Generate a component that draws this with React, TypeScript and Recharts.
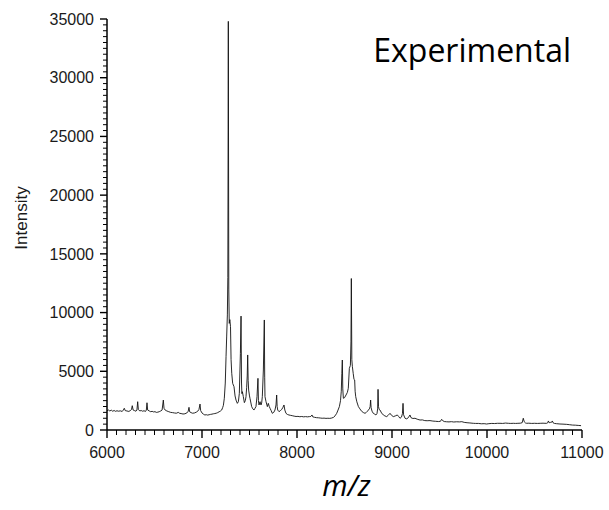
import React from "react";
import { LineChart, Line, XAxis, YAxis, Label, Customized } from "recharts";

const mzValues: number[] = [
  6000, 6015, 6030, 6045, 6060, 6075, 6090, 6105, 6120, 6140, 6160, 6172, 6182, 6192, 6210, 6230, 6250, 6258, 6266, 6275,
  6290, 6305, 6315, 6323, 6330, 6345, 6360, 6375, 6390, 6405, 6414, 6421, 6428, 6445, 6460, 6475, 6490, 6505, 6520, 6535,
  6550, 6565, 6580, 6593, 6600, 6612, 6630, 6650, 6670, 6690, 6710, 6730, 6750, 6765, 6780, 6800, 6820, 6840, 6855, 6863,
  6870, 6885, 6900, 6920, 6940, 6955, 6968, 6979, 6986, 7000, 7015, 7030, 7045, 7060, 7075, 7090, 7105, 7120, 7135, 7150,
  7165, 7180, 7195, 7207, 7217, 7225, 7235, 7245, 7253, 7260, 7267, 7272, 7277, 7282, 7287, 7293, 7300, 7306, 7313, 7323,
  7337, 7348, 7358, 7372, 7383, 7393, 7404, 7411, 7416, 7420, 7425, 7435, 7446, 7456, 7463, 7470, 7476, 7481, 7486, 7491,
  7500, 7505, 7515, 7523, 7535, 7547, 7558, 7568, 7579, 7589, 7594, 7600, 7611, 7621, 7628, 7635, 7646, 7656, 7660, 7663,
  7674, 7688, 7698, 7708, 7716, 7728, 7740, 7755, 7768, 7779, 7786, 7791, 7797, 7811, 7825, 7839, 7850, 7863, 7872, 7884,
  7900, 7915, 7930, 7950, 7970, 7990, 8010, 8030, 8050, 8070, 8090, 8110, 8130, 8145, 8158, 8166, 8185, 8205, 8225, 8245,
  8265, 8285, 8305, 8325, 8345, 8365, 8385, 8400, 8418, 8432, 8446, 8458, 8466, 8472, 8477, 8482, 8488, 8500, 8516, 8530,
  8540, 8551, 8562, 8568, 8572, 8577, 8583, 8592, 8600, 8607, 8612, 8618, 8630, 8646, 8662, 8681, 8700, 8716, 8730, 8742,
  8751, 8762, 8770, 8775, 8780, 8790, 8803, 8818, 8831, 8842, 8849, 8853, 8858, 8865, 8874, 8890, 8909, 8925, 8944, 8960,
  8979, 8995, 9014, 9035, 9056, 9070, 9084, 9100, 9110, 9116, 9122, 9137, 9155, 9172, 9189, 9200, 9220, 9242, 9265, 9295,
  9320, 9345, 9370, 9400, 9430, 9460, 9490, 9510, 9523, 9533, 9550, 9575, 9600, 9625, 9650, 9680, 9710, 9735, 9760, 9790,
  9820, 9856, 9880, 9910, 9940, 9970, 9996, 10020, 10050, 10080, 10110, 10137, 10165, 10195, 10225, 10250, 10277, 10300, 10325, 10350,
  10370, 10382, 10392, 10405, 10418, 10440, 10470, 10500, 10530, 10560, 10590, 10610, 10628, 10640, 10646, 10655, 10670, 10680, 10688, 10695,
  10710, 10730, 10768, 10800, 10839, 10870, 10900, 10930, 10960, 10990,
];

const intensityValues: number[] = [
  1650, 1700, 1620, 1690, 1600, 1660, 1590, 1640, 1600, 1630, 1580, 1700, 1850, 1650, 1620, 1580, 1680, 1750, 2070, 1700,
  1650, 1600, 1700, 2410, 1750, 1620, 1660, 1600, 1640, 1580, 1700, 2320, 1700, 1620, 1560, 1590, 1540, 1560, 1500, 1520,
  1560, 1620, 1700, 2550, 1850, 1700, 1620, 1560, 1500, 1480, 1450, 1430, 1500, 1420, 1400, 1360, 1380, 1450, 1600, 1930,
  1550, 1480, 1430, 1450, 1520, 1600, 1750, 2210, 1650, 1450, 1350, 1280, 1300, 1270, 1300, 1330, 1350, 1380, 1400, 1430,
  1480, 1550, 1620, 1700, 1900, 2100, 2700, 4000, 6240, 8000, 9800, 13000, 34800, 12000, 9080, 9400, 8800, 6000, 4830, 3970,
  3690, 2900, 2550, 2270, 2410, 3120, 6500, 9700, 4000, 3100, 3260, 2840, 2330, 2500, 2840, 3600, 4600, 6390, 4200, 3400,
  2900, 2700, 2300, 1990, 1800, 1700, 1850, 1990, 2840, 4400, 2500, 2130, 2410, 2130, 2300, 2840, 5110, 9370, 4500, 2840,
  2410, 1990, 2270, 2000, 1850, 1650, 1420, 1500, 1700, 2130, 2980, 2000, 1700, 1560, 1650, 1750, 1900, 2130, 1700, 1420,
  1320, 1280, 1250, 1220, 1180, 1150, 1160, 1130, 1150, 1120, 1140, 1120, 1140, 1150, 1280, 1120, 1080, 1050, 1040, 1020,
  1000, 1010, 990, 1000, 990, 1020, 1080, 1200, 1420, 1700, 1990, 2500, 3300, 4800, 5960, 3500, 2700, 2750, 2980, 3200,
  3550, 5250, 5500, 7500, 12900, 6000, 5390, 4800, 4300, 4260, 3300, 2840, 2400, 2000, 1800, 1590, 1480, 1420, 1500, 1600,
  1700, 1800, 2000, 2550, 1900, 1600, 1420, 1350, 1280, 1400, 1800, 3460, 2000, 1750, 1700, 1450, 1280, 1200, 1140, 1250,
  1420, 1250, 1140, 1200, 1280, 1150, 1000, 1100, 1400, 2270, 1300, 1000, 950, 1050, 1280, 1050, 980, 1000, 920, 850,
  860, 800, 790, 800, 760, 740, 720, 740, 910, 800, 720, 700, 690, 710, 680, 700, 690, 710, 650, 620,
  600, 570, 560, 560, 530, 540, 510, 540, 560, 550, 570, 570, 560, 590, 570, 560, 570, 560, 570, 580,
  620, 1000, 700, 600, 570, 580, 560, 570, 560, 570, 580, 570, 570, 620, 770, 620, 650, 660, 770, 620,
  560, 540, 510, 500, 480, 450, 420, 410, 390, 370,
];

const xMajorTicks: number[] = [6000, 7000, 8000, 9000, 10000, 11000];
const yMajorTicks: number[] = [0, 5000, 10000, 15000, 20000, 25000, 30000, 35000];
const xMinorStep = 100;
const yMinorStep = 500;

const xTicks: number[] = [];
for (let v = xMajorTicks[0]; v <= xMajorTicks[xMajorTicks.length - 1]; v += xMinorStep) xTicks.push(v);
const yTicks: number[] = [];
for (let v = yMajorTicks[0]; v <= yMajorTicks[yMajorTicks.length - 1]; v += yMinorStep) yTicks.push(v);

const data = mzValues.map((mz, i) => ({ mz, intensity: intensityValues[i] }));

const TICK_FONT = "'Liberation Sans', Arial, sans-serif";

const XTick = (props: any) => {
  const { x, y, payload } = props;
  const major = xMajorTicks.includes(payload.value);
  return (
    <g>
      <line x1={x} x2={x} y1={y} y2={y + (major ? 8 : 5)} stroke="#000" strokeWidth={major ? 1.4 : 1} />
      {major && (
        <text x={x} y={y + 28} textAnchor="middle" fontSize={16} fontFamily={TICK_FONT} fill="#1a1a1a">
          {payload.value}
        </text>
      )}
    </g>
  );
};

const YTick = (props: any) => {
  const { x, y, payload } = props;
  const major = yMajorTicks.includes(payload.value);
  return (
    <g>
      <line x1={x - (major ? 7 : 4)} x2={x} y1={y} y2={y} stroke="#000" strokeWidth={major ? 1.4 : 1} />
      {major && (
        <text x={x - 13} y={y} dy="0.36em" textAnchor="end" fontSize={16} fontFamily={TICK_FONT} fill="#1a1a1a">
          {payload.value}
        </text>
      )}
    </g>
  );
};

export default function App() {
  return (
    <div style={{ position: "absolute", left: 0, top: 0, width: 609, height: 510, background: "#fff" }}>
      <LineChart width={609} height={510} data={data} margin={{ top: 19, right: 27, left: 7, bottom: 40 }}>
        <XAxis
          dataKey="mz"
          type="number"
          domain={[6000, 11000]}
          ticks={xTicks}
          interval={0}
          tickSize={0}
          tickMargin={0}
          tickLine={false}
          tick={<XTick />}
          axisLine={{ stroke: "#000", strokeWidth: 1.5 }}
          height={40}
          allowDataOverflow
        >
          <Label
            content={(p: any) => (
              <text
                x={p.viewBox.x + p.viewBox.width / 2 + 2}
                y={496}
                textAnchor="middle"
                fontSize={29}
                fontStyle="italic"
                fontFamily="'Open Sans', sans-serif"
                fill="#000"
              >
                m/z
              </text>
            )}
          />
        </XAxis>
        <YAxis
          type="number"
          domain={[0, 35000]}
          ticks={yTicks}
          interval={0}
          tickSize={0}
          tickMargin={0}
          tickLine={false}
          tick={<YTick />}
          axisLine={{ stroke: "#000", strokeWidth: 1.5 }}
          width={100}
          allowDataOverflow
        >
          <Label
            content={() => (
              <text
                x={27}
                y={218}
                transform="rotate(-90, 27, 218)"
                textAnchor="middle"
                fontSize={17}
                fontFamily={TICK_FONT}
                fill="#1a1a1a"
              >
                Intensity
              </text>
            )}
          />
        </YAxis>
        <Line
          dataKey="intensity"
          type="linear"
          stroke="#111"
          strokeWidth={0.9}
          dot={false}
          isAnimationActive={false}
        />
        <Customized
          component={() => (
            <text x={571} y={62} textAnchor="end" fontSize={32} fontFamily="'Open Sans', sans-serif" fill="#000">
              Experimental
            </text>
          )}
        />
      </LineChart>
    </div>
  );
}
